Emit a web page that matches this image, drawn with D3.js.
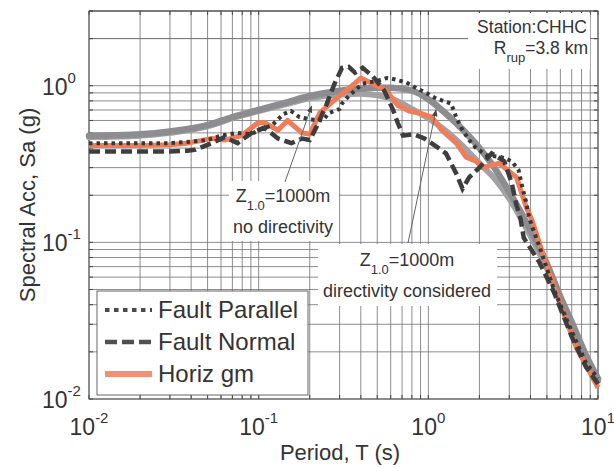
<!DOCTYPE html>
<html><head><meta charset="utf-8">
<script src="https://cdn.jsdelivr.net/npm/d3@7"></script>
<style>
html,body{margin:0;padding:0;background:#fff;}
svg{display:block;font-family:"Liberation Sans",Arial,sans-serif;}
</style></head>
<body>
<svg id="chart" width="614" height="468"></svg>
<script>
// ---- data ----
const xTickLabels = ["-2", "-1", "0", "1"];
const yTickLabels = ["-2", "-1", "0"];

const parallelT  = [0.01,0.02,0.03,0.04,0.05,0.06,0.075,0.09,0.1,0.12,0.14,0.155,0.174,0.2,0.238,0.26,0.3,0.31,0.34,0.41,0.51,0.57,0.63,0.74,0.86,0.97,1.11,1.36,1.46,1.56,1.74,1.91,2.2,2.7,3.1,3.4,3.6,3.75,3.9,4.05,4.5,5.5,7,8.5,10];
const parallelSa = [0.43,0.43,0.43,0.44,0.45,0.48,0.50,0.49,0.52,0.56,0.66,0.69,0.63,0.61,0.60,0.67,0.71,0.77,0.86,1.03,1.08,1.12,1.10,1.05,0.96,0.90,0.83,0.77,0.63,0.54,0.45,0.40,0.36,0.35,0.33,0.29,0.22,0.185,0.15,0.13,0.095,0.050,0.027,0.017,0.0135];

const normalT  = [0.01,0.02,0.03,0.038,0.042,0.053,0.063,0.075,0.091,0.108,0.13,0.156,0.18,0.2,0.22,0.25,0.28,0.31,0.34,0.37,0.41,0.47,0.55,0.62,0.66,0.71,0.82,0.95,1.15,1.27,1.46,1.59,1.74,2.0,2.36,2.8,3.1,3.3,3.5,3.65,4.5,5.5,7,8.5,10];
const normalSa = [0.38,0.38,0.38,0.385,0.39,0.43,0.47,0.43,0.50,0.54,0.46,0.43,0.46,0.45,0.55,0.75,1.03,1.30,1.32,1.21,1.30,1.15,0.93,0.70,0.58,0.48,0.49,0.46,0.40,0.37,0.275,0.22,0.26,0.30,0.37,0.33,0.24,0.175,0.14,0.107,0.075,0.048,0.025,0.016,0.0125];

const horizT  = [0.01,0.02,0.03,0.038,0.053,0.063,0.079,0.099,0.108,0.13,0.148,0.18,0.2,0.229,0.287,0.343,0.40,0.47,0.565,0.66,0.77,0.88,1.05,1.20,1.46,1.67,1.91,2.08,2.62,3.31,3.78,4.09,4.95,6.0,7.5,8.88,10];
const horizSa = [0.415,0.415,0.42,0.43,0.46,0.45,0.48,0.58,0.58,0.52,0.60,0.50,0.49,0.67,0.83,0.97,1.12,1.03,0.93,0.75,0.69,0.67,0.63,0.52,0.43,0.35,0.33,0.30,0.32,0.26,0.167,0.138,0.072,0.040,0.021,0.0150,0.0118];

const modelT      = [0.01,0.02,0.03,0.05,0.07,0.1,0.15,0.2,0.3,0.4,0.5,0.6,0.8,1.0,1.2,1.5,2.0,2.5,3.0,4.0,5.0,6.0,7.0,8.5,10];
const directSa    = [0.48,0.49,0.51,0.56,0.63,0.70,0.79,0.86,0.93,0.96,0.97,0.97,0.93,0.82,0.70,0.56,0.40,0.29,0.21,0.12,0.073,0.045,0.031,0.019,0.0135];
const noDirectSa  = [0.47,0.48,0.50,0.55,0.62,0.69,0.77,0.83,0.88,0.89,0.87,0.83,0.71,0.62,0.54,0.44,0.32,0.25,0.19,0.11,0.068,0.043,0.029,0.018,0.013];

const legendLabels = ["Fault Parallel", "Fault Normal", "Horiz gm"];

// ---- layout ----
const svg = d3.select("#chart");
const x = d3.scaleLog().domain([0.01, 10]).range([89, 598]);
const y = d3.scaleLog().domain([0.01, 3]).range([399, 11]);
const TXT = "#333";

// gridlines
const xGrid = [], yGrid = [];
for (let e = -2; e <= 0; e++) for (let m = 1; m <= 9; m++) xGrid.push(m * Math.pow(10, e));
xGrid.push(10);
for (let e = -2; e <= 0; e++) for (let m = 1; m <= 9; m++) yGrid.push(m * Math.pow(10, e));
yGrid.push(2, 3);

const grid = svg.append("g").attr("stroke", "#707070").attr("stroke-width", 0.8);
grid.selectAll(".vx").data(xGrid).join("line")
  .attr("x1", d => x(d)).attr("x2", d => x(d)).attr("y1", y(3)).attr("y2", y(0.01));
grid.selectAll(".hy").data(yGrid).join("line")
  .attr("x1", x(0.01)).attr("x2", x(10)).attr("y1", d => y(d)).attr("y2", d => y(d));

// minor ticks (inner) on all sides
const tk = svg.append("g").attr("stroke", "#444").attr("stroke-width", 1);
tk.selectAll(".tb").data(xGrid).join("line").attr("x1", d => x(d)).attr("x2", d => x(d)).attr("y1", y(0.01)).attr("y2", y(0.01) - 4);
tk.selectAll(".tt").data(xGrid).join("line").attr("x1", d => x(d)).attr("x2", d => x(d)).attr("y1", y(3)).attr("y2", y(3) + 4);
tk.selectAll(".tl").data(yGrid).join("line").attr("x1", x(0.01)).attr("x2", x(0.01) + 4).attr("y1", d => y(d)).attr("y2", d => y(d));
tk.selectAll(".tr").data(yGrid).join("line").attr("x1", x(10)).attr("x2", x(10) - 4).attr("y1", d => y(d)).attr("y2", d => y(d));

// frame
svg.append("rect").attr("x", x(0.01)).attr("y", y(3)).attr("width", x(10) - x(0.01)).attr("height", y(0.01) - y(3))
  .attr("fill", "none").attr("stroke", "#555").attr("stroke-width", 1);

// annotation boxes (white, occlude grid)
function zLabel(g, cx, base) {
  const t = g.append("text").attr("x", cx).attr("y", base).attr("text-anchor", "middle")
    .attr("font-size", 18).attr("fill", TXT);
  t.append("tspan").text("Z");
  t.append("tspan").attr("font-size", 13).attr("dy", 8).text("1.0");
  t.append("tspan").attr("dy", -8).text("=1000m");
}
const a1 = svg.append("g");
a1.append("rect").attr("x", 229).attr("y", 181).attr("width", 110).attr("height", 60).attr("fill", "#fff");
zLabel(a1, 283, 202);
a1.append("text").attr("x", 283).attr("y", 233).attr("text-anchor", "middle").attr("font-size", 18).attr("fill", TXT).text("no directivity");

const a2 = svg.append("g");
a2.append("rect").attr("x", 318).attr("y", 244).attr("width", 179).attr("height", 62).attr("fill", "#fff");
zLabel(a2, 407, 266);
a2.append("text").attr("x", 407).attr("y", 297).attr("text-anchor", "middle").attr("font-size", 18).attr("fill", TXT).text("directivity considered");

const a3 = svg.append("g");
a3.append("rect").attr("x", 468).attr("y", 13).attr("width", 122).attr("height", 56).attr("fill", "#fff");
a3.append("text").attr("x", 587).attr("y", 33).attr("text-anchor", "end").attr("font-size", 17.5).attr("fill", TXT).text("Station:CHHC");
const rt = a3.append("text").attr("x", 588).attr("y", 54).attr("text-anchor", "end").attr("font-size", 17.5).attr("fill", TXT);
rt.append("tspan").text("R");
rt.append("tspan").attr("font-size", 13).attr("dy", 8).text("rup");
rt.append("tspan").attr("dy", -8).text("=3.8 km");

// curves
const line = (T, S, curve) => d3.line().x((d, i) => x(T[i])).y(d => y(d)).curve(curve || d3.curveLinear)(S);

svg.append("path").attr("d", line(modelT, noDirectSa, d3.curveMonotoneX))
  .attr("fill", "none").attr("stroke", "#a2a2a4").attr("stroke-width", 6).attr("stroke-linecap", "round");
svg.append("path").attr("d", line(modelT, directSa, d3.curveMonotoneX))
  .attr("fill", "none").attr("stroke", "#8d8d90").attr("stroke-width", 6.5).attr("stroke-linecap", "round");

svg.append("path").attr("d", line(horizT, horizSa))
  .attr("fill", "none").attr("stroke", "#f17c58").attr("stroke-width", 5).attr("stroke-linejoin", "round");
svg.append("path").attr("d", line(normalT, normalSa))
  .attr("fill", "none").attr("stroke", "#3e3e3e").attr("stroke-width", 4.5).attr("stroke-dasharray", "11,5");
svg.append("path").attr("d", line(parallelT, parallelSa))
  .attr("fill", "none").attr("stroke", "#383838").attr("stroke-width", 4).attr("stroke-dasharray", "3.5,4");

// leader lines with arrowheads
svg.append("defs").append("marker").attr("id", "arr").attr("viewBox", "0 0 10 10").attr("refX", 9).attr("refY", 5)
  .attr("markerWidth", 7).attr("markerHeight", 7).attr("orient", "auto")
  .append("path").attr("d", "M0,1 L10,5 L0,9 Z").attr("fill", "#444");
const leaders = [
  { from: [285, 182], toT: 0.205, toSa: 0.74 },
  { from: [408, 243], toT: 1.11, toSa: 0.70 }
];
svg.selectAll(".ld").data(leaders).join("line")
  .attr("x1", d => d.from[0]).attr("y1", d => d.from[1])
  .attr("x2", d => x(d.toT)).attr("y2", d => y(d.toSa))
  .attr("stroke", "#666").attr("stroke-width", 1).attr("marker-end", "url(#arr)");

// legend
const lg = svg.append("g");
lg.append("rect").attr("x", 97).attr("y", 291).attr("width", 211).attr("height", 104)
  .attr("fill", "#fff").attr("stroke", "#666").attr("stroke-width", 1);
const legStyles = [
  { stroke: "#4a4a4a", w: 4, dash: "4.5,4.5" },
  { stroke: "#505050", w: 4.5, dash: "12,5" },
  { stroke: "#f4906f", w: 6, dash: null }
];
legendLabels.forEach((lab, i) => {
  const yy = 310 + i * 32;
  const s = legStyles[i];
  lg.append("line").attr("x1", 105).attr("x2", 152).attr("y1", yy).attr("y2", yy)
    .attr("stroke", s.stroke).attr("stroke-width", s.w).attr("stroke-dasharray", s.dash);
  lg.append("text").attr("x", 158).attr("y", yy + 8).attr("font-size", 24).attr("fill", TXT).text(lab);
});

// tick labels
const xt = svg.append("g");
xTickLabels.forEach(e => {
  const t = xt.append("text").attr("x", x(Math.pow(10, +e))).attr("y", 435).attr("text-anchor", "middle")
    .attr("font-size", 23).attr("fill", TXT);
  t.append("tspan").text("10");
  t.append("tspan").attr("font-size", 15).attr("dy", -12).text(e);
});
const yt = svg.append("g");
yTickLabels.forEach(e => {
  const t = yt.append("text").attr("x", 42).attr("y", y(Math.pow(10, +e)) + 9)
    .attr("font-size", 23).attr("fill", TXT);
  t.append("tspan").text("10");
  t.append("tspan").attr("font-size", 15).attr("dy", -12).text(e);
});

// axis titles
svg.append("text").attr("x", 340).attr("y", 460).attr("text-anchor", "middle").attr("font-size", 22).attr("fill", TXT)
  .text("Period, T (s)");
svg.append("text").attr("transform", "translate(35,205) rotate(-90)").attr("text-anchor", "middle")
  .attr("font-size", 22).attr("fill", TXT).text("Spectral Acc, Sa (g)");
</script>
</body></html>
